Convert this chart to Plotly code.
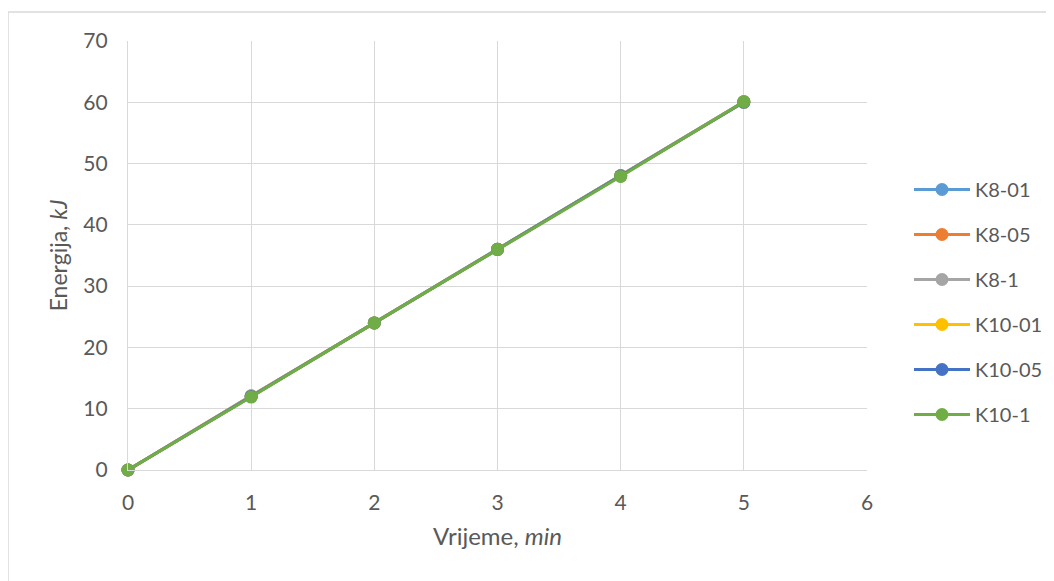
import plotly.graph_objects as go

time_min = [0, 1, 2, 3, 4, 5]
series_names = ["K8-01", "K8-05", "K8-1", "K10-01", "K10-05", "K10-1"]
k8_01 = [0, 12.0, 24.0, 36.0, 48.0, 60.1]
k8_05 = [0, 12.1, 24.0, 36.0, 48.0, 60.1]
k8_1 = [0, 12.1, 24.0, 36.0, 48.0, 60.1]
k10_01 = [0, 12.0, 24.0, 36.0, 48.0, 60.0]
k10_05 = [0, 12.0, 24.0, 36.0, 48.0, 60.0]
k10_1 = [0, 11.9, 24.0, 36.0, 47.9, 60.1]
values = [k8_01, k8_05, k8_1, k10_01, k10_05, k10_1]
colors = ["#5B9BD5", "#ED7D31", "#A5A5A5", "#FFC000", "#4472C4", "#70AD47"]

fig = go.Figure()
for name, vals, col in zip(series_names, values, colors):
    fig.add_trace(go.Scatter(
        x=time_min, y=vals, name=name, mode="lines+markers",
        line=dict(color=col, width=3),
        marker=dict(color=col, size=13),
        legendgroup=name, cliponaxis=False,
    ))

font_family = "Lato, 'Open Sans', sans-serif"
axis_common = dict(
    showgrid=True, gridcolor="#D9D9D9", gridwidth=1.3,
    showline=True, linecolor="#D9D9D9", linewidth=1.3,
    zeroline=False, ticks="",
    tickfont=dict(family=font_family, size=21, color="#595959"),
)
# page has an 8px body offset; plot area in page: x 128..867, y 41..470
fig.update_layout(
    width=1054, height=581,
    margin=dict(l=120, r=195, t=33, b=119),
    paper_bgcolor="white", plot_bgcolor="white",
    font=dict(family=font_family, color="#595959"),
    xaxis=dict(range=[0, 6], dtick=1, tick0=0,
               ticklabelstandoff=14,
               title=dict(text="Vrijeme, <i>min</i>", font=dict(size=24, color="#595959"), standoff=14),
               **axis_common),
    yaxis=dict(range=[0, 70], dtick=10, tick0=0,
               ticklabelstandoff=15,
               title=dict(text="Energija, <i>kJ</i>", font=dict(size=23, color="#595959"), standoff=9),
               **axis_common),
    legend=dict(
        x=(909 - 128) / 739, xanchor="left", xref="paper",
        y=(470 - 302) / 429, yanchor="middle",
        font=dict(family=font_family, size=20, color="#595959"),
        tracegroupgap=16, itemwidth=56,
        bgcolor="rgba(0,0,0,0)",
    ),
    shapes=[dict(type="rect", xref="paper", yref="paper",
                 x0=-120 / 739, x1=1.5, y0=-0.5, y1=1 + 29 / 429,
                 line=dict(color="#D9D9D9", width=1.5), layer="below")],
)

fig.write_html("out.html")
